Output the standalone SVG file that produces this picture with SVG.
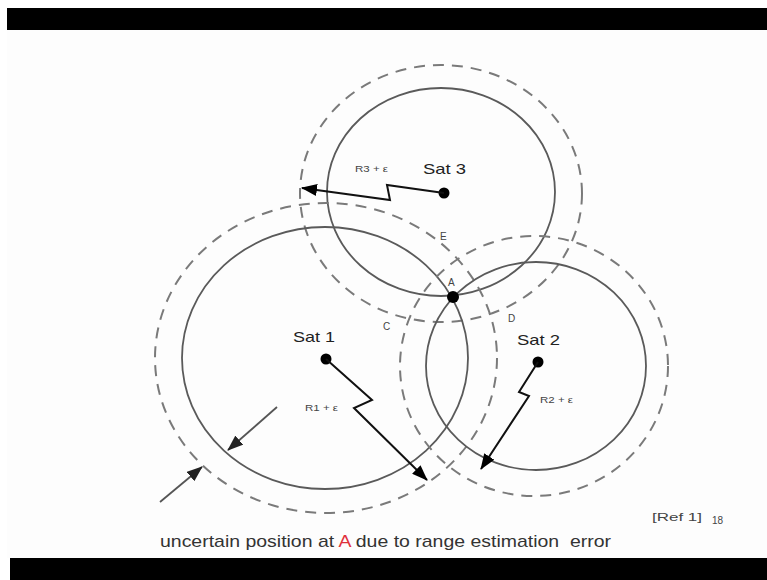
<svg xmlns="http://www.w3.org/2000/svg" width="767" height="580" viewBox="0 0 767 580">
  <style>
    .range { fill: none; stroke: #5a5a5a; stroke-width: 1.8; }
    .bound { fill: none; stroke: #7a7a7a; stroke-width: 2; stroke-dasharray: 11 8; }
    .ray { fill: none; stroke: #111; stroke-width: 2; stroke-linejoin: miter; }
    .pointer { fill: none; stroke: #555; stroke-width: 1.8; }
    .sat { font-family: "Liberation Sans", Arial, sans-serif; font-size: 15px; fill: #222; }
    .small { font-family: "Liberation Sans", Arial, sans-serif; font-size: 9px; fill: #444; }
    .pt { font-family: "Liberation Sans", Arial, sans-serif; font-size: 10px; fill: #444; }
    .caption { font-family: "Liberation Sans", Arial, sans-serif; font-size: 17px; fill: #333; }
    .dot { fill: #000; }
  </style>
  <defs>
    <marker id="head" markerUnits="userSpaceOnUse" markerWidth="16" markerHeight="12" refX="15" refY="6" orient="auto">
      <path d="M0,0 L16,6 L0,12 Z" fill="#000"/>
    </marker>
    <marker id="headGray" markerUnits="userSpaceOnUse" markerWidth="16" markerHeight="12" refX="15" refY="6" orient="auto">
      <path d="M0,0 L16,6 L0,12 Z" fill="#222"/>
    </marker>
  </defs>

  <!-- page -->
  <rect x="0" y="0" width="767" height="580" fill="#ffffff"/>
  <rect x="7" y="30" width="760" height="528" fill="#fdfdfd"/>
  <rect x="7" y="8" width="760" height="22" fill="#000"/>
  <rect x="10" y="558" width="757" height="22" fill="#000"/>

  <!-- range circles and their error bounds -->
  <g id="sat3">
    <ellipse class="range" cx="441" cy="192" rx="114" ry="104"/>
    <ellipse class="bound" cx="441" cy="193.5" rx="141" ry="128.5"/>
    <circle class="dot" cx="444" cy="193" r="5.5"/>
    <text class="sat" x="423" y="174" textLength="43" lengthAdjust="spacingAndGlyphs">Sat 3</text>
  </g>
  <g id="sat1">
    <ellipse class="range" cx="325" cy="358" rx="143" ry="131"/>
    <ellipse class="bound" cx="326" cy="358" rx="171" ry="155"/>
    <circle class="dot" cx="326" cy="359" r="5.5"/>
    <text class="sat" x="293" y="342" textLength="42" lengthAdjust="spacingAndGlyphs">Sat 1</text>
  </g>
  <g id="sat2">
    <ellipse class="range" cx="536" cy="366" rx="110" ry="104"/>
    <ellipse class="bound" cx="534" cy="366" rx="134" ry="130"/>
    <circle class="dot" cx="538" cy="362" r="5.5"/>
    <text class="sat" x="517" y="345" textLength="43" lengthAdjust="spacingAndGlyphs">Sat 2</text>
  </g>

  <!-- position fix and region labels -->
  <g id="pointA">
    <circle class="dot" cx="453" cy="297" r="6"/>
    <text class="pt" x="448" y="286">A</text>
  </g>
  <g id="labels">
    <text class="pt" x="440" y="240">E</text>
    <text class="pt" x="383" y="330">C</text>
    <text class="pt" x="508" y="322">D</text>
  </g>

  <!-- range rays and bound pointers -->
  <g id="connectors">
    <path class="ray" d="M444,193 L387,185 L390,200 L302,188" marker-end="url(#head)"/>
    <path class="ray" d="M326,359 L372,400 L354,408 L427,480" marker-end="url(#head)"/>
    <path class="ray" d="M538,362 L519,392 L529,396 L481,469" marker-end="url(#head)"/>
    <path class="pointer" d="M277,407 L228,450" marker-end="url(#headGray)"/>
    <path class="pointer" d="M160,502 L202,467" marker-end="url(#headGray)"/>
  </g>
  <g id="rayLabels">
    <text class="small" x="355" y="172" textLength="33" lengthAdjust="spacingAndGlyphs">R3 + ε</text>
    <text class="small" x="305" y="411" textLength="33" lengthAdjust="spacingAndGlyphs">R1 + ε</text>
    <text class="small" x="540" y="403" textLength="33" lengthAdjust="spacingAndGlyphs">R2 + ε</text>
  </g>

  <!-- caption -->
  <g id="caption">
    <text class="caption" x="160" y="547" textLength="451" lengthAdjust="spacingAndGlyphs" xml:space="preserve">uncertain position at <tspan fill="#e0303a">A</tspan> due to range estimation  error</text>
    <text class="pt" x="652" y="521" font-size="11" textLength="50" lengthAdjust="spacingAndGlyphs">[Ref 1]</text>
    <text class="pt" x="712" y="524" font-size="9">18</text>
  </g>
</svg>
